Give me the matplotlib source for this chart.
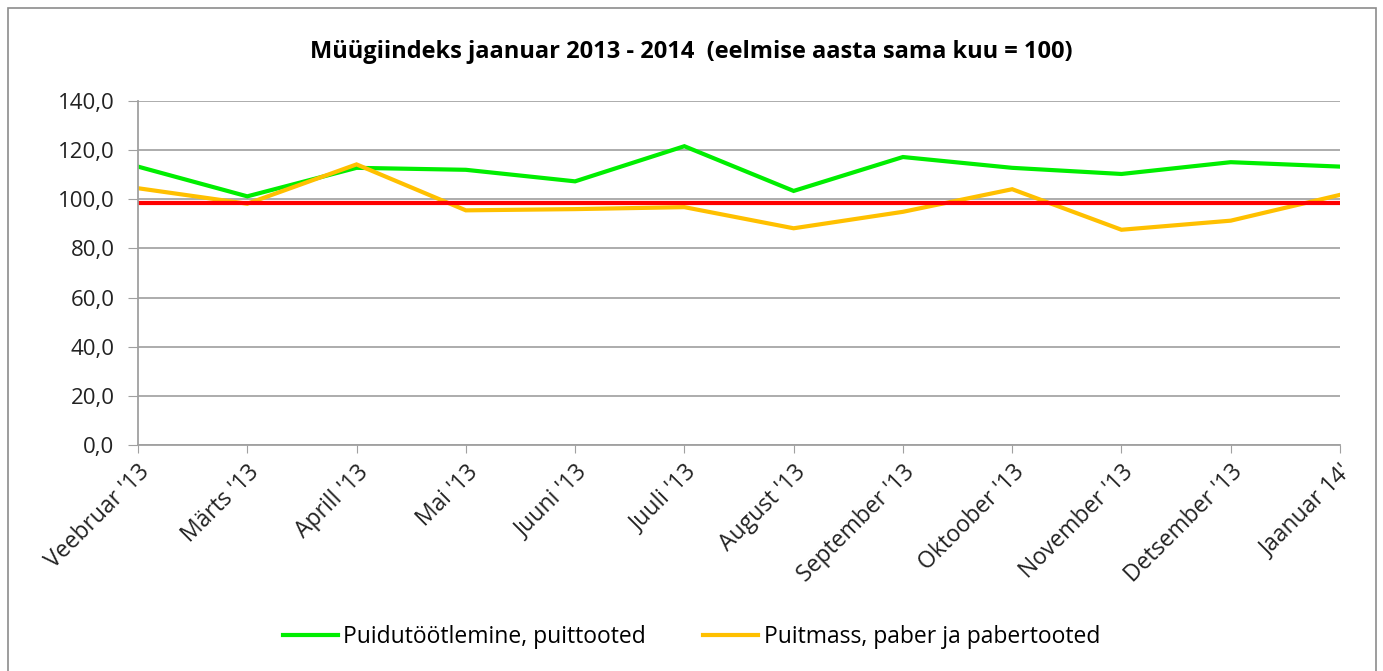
import matplotlib.pyplot as plt
from matplotlib.patches import Rectangle
from matplotlib.ticker import FuncFormatter

months = ["Veebruar '13", "Märts '13", "Aprill '13", "Mai '13", "Juuni '13", "Juuli '13",
          "August '13", "September '13", "Oktoober '13", "November '13", "Detsember '13", "Jaanuar 14'"]
puidu = [113.3, 101.2, 112.8, 112.0, 107.3, 121.6, 103.4, 117.2, 112.8, 110.3, 115.1, 113.3]
puitmass = [104.5, 98.2, 114.2, 95.5, 96.0, 96.8, 88.2, 94.9, 104.1, 87.6, 91.3, 101.8]
baas = [98.3] * len(months)

plt.rcParams['font.family'] = ['Open Sans', 'DejaVu Sans']

fig = plt.figure(figsize=(13.83, 6.71), dpi=100)
ax = fig.add_axes([138 / 1383, 1 - 445 / 671, (1340 - 138) / 1383, (445 - 101) / 671])

x = list(range(len(months)))
ax.plot(x, puidu, color='#00ee00', lw=3, label='Puidutöötlemine, puittooted', solid_joinstyle='miter')
ax.plot(x, puitmass, color='#ffc000', lw=3, label='Puitmass, paber ja pabertooted', solid_joinstyle='miter')
ax.plot(x, baas, color='#ff0000', lw=3, solid_capstyle='butt')

ax.set_xlim(0, len(months) - 1)
ax.set_ylim(0, 140)
ax.set_yticks(range(0, 141, 20))
ax.yaxis.set_major_formatter(FuncFormatter(lambda v, p: f"{v:.1f}".replace('.', ',')))
ax.set_xticks(x)
ax.set_xticklabels(months, rotation=45, ha='right', rotation_mode='anchor', fontsize=16.5)
ax.tick_params(axis='y', labelsize=16, length=7, color='#a0a0a0', pad=10, labelcolor='#222222')
ax.tick_params(axis='x', length=6, color='#a0a0a0', pad=5, labelcolor='#222222')
ax.grid(axis='y', color='#a6a6a6', lw=1.3)
ax.set_axisbelow(True)
for s in ['top', 'right']:
    ax.spines[s].set_visible(False)
for s in ['left', 'bottom']:
    ax.spines[s].set_color('#a0a0a0')
    ax.spines[s].set_linewidth(1.3)

fig.text(0.5, 1 - 52 / 671, 'Müügiindeks jaanuar 2013 - 2014  (eelmise aasta sama kuu = 100)',
         ha='center', va='center', fontsize=17, fontweight='bold')

fig.legend(loc='center', bbox_to_anchor=(0.5, 1 - 637 / 671), ncol=2, frameon=False,
           fontsize=16.5, handlelength=2.4, handletextpad=0.25, columnspacing=2.5)

fig.patches.append(Rectangle((8 / 1383, -0.01), 1368 / 1383, 1 - 8 / 671 + 0.01,
                             transform=fig.transFigure, fill=False, edgecolor='#8c8c8c', lw=1.2))

fig.savefig('out.png', dpi=100)
